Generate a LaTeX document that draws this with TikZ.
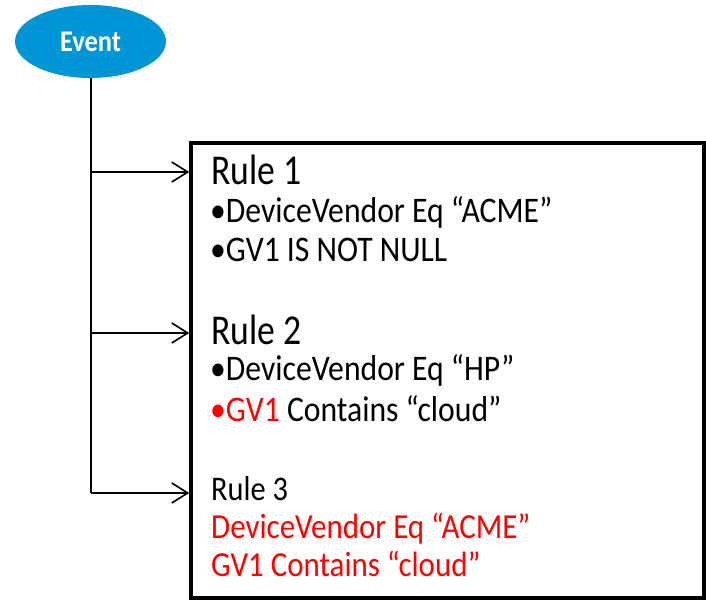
\documentclass[tikz,border=0pt]{standalone}
\usepackage{fontspec}
\setmainfont{Carlito}
\newfontfamily\hpbody[FakeStretch=0.88]{Carlito}
\newfontfamily\hphead[FakeStretch=0.84]{Carlito}
\usetikzlibrary{arrows.meta,shapes.geometric}
\definecolor{hpblue}{RGB}{0,150,214}
\definecolor{hpred}{RGB}{255,0,0}
\begin{document}
\begin{tikzpicture}[x=1pt,y=1pt,
  conn/.style={line width=1.6pt,-{Straight Barb[length=16pt,width=20pt,line width=1.6pt]}},
  head/.style={anchor=base west,inner sep=0pt,font=\hphead\fontsize{42.5}{50}\selectfont},
  body/.style={anchor=base west,inner sep=0pt,font=\hpbody\fontsize{36}{42}\selectfont},
  redline/.style={anchor=base west,inner sep=0pt,text=hpred,font=\hpbody\fontsize{35.2}{42}\selectfont},
  small/.style={anchor=base west,inner sep=0pt,font=\hpbody\fontsize{34.5}{40}\selectfont}]
\useasboundingbox (0,0) rectangle (706,601);
\node[ellipse,fill=hpblue,minimum width=151pt,minimum height=73pt,inner sep=0pt,
  text=white,font=\hpbody\bfseries\fontsize{30}{34}\selectfont] (event) at (90.5,559.5) {Event};
\node[draw,line width=3.5pt,minimum width=513pt,minimum height=455pt,inner sep=0pt] (box) at (447.5,230.5) {};
\coordinate (j1) at (91,429);
\coordinate (j2) at (91,268);
\coordinate (j3) at (91,108);
\draw[line width=1.6pt] (event.south -| j1) -- (j3);
\draw[conn] (j1) -- (j1 -| box.west);
\draw[conn] (j2) -- (j2 -| box.west);
\draw[conn] (j3) -- (j3 -| box.west);
\node[head] (r1) at (211,416) {Rule 1};
\node[body] (r1a) at (210,378) {•DeviceVendor Eq “ACME”};
\node[body] (r1b) at (210,339) {•GV1 IS NOT NULL};
\node[head] (r2) at (211,256) {Rule 2};
\node[body] (r2a) at (210,220) {•DeviceVendor Eq “HP”};
\node[body] (r2b) at (210,179) {\textcolor{hpred}{•GV1} Contains “cloud”};
\node[small] (r3) at (211,100) {Rule 3};
\node[redline] (r3a) at (211,62) {DeviceVendor Eq “ACME”};
\node[redline] (r3b) at (211,24) {GV1 Contains “cloud”};
\end{tikzpicture}
\end{document}
